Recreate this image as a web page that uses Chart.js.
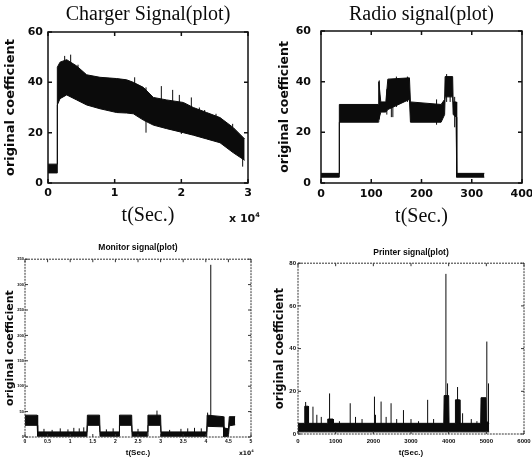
<!DOCTYPE html>
<html>
<head>
<meta charset="utf-8">
<script src="https://cdn.jsdelivr.net/npm/chart.js@4/dist/chart.umd.min.js"></script>
<style>
  html,body{margin:0;padding:0;background:#fff;}
  #wrap{position:relative;width:532px;height:460px;overflow:hidden;background:#fff;}
  .cell{position:absolute;width:266px;height:230px;}
  .mult{position:absolute;font-family:"DejaVu Sans","Liberation Sans",sans-serif;font-weight:bold;color:#111;white-space:nowrap;line-height:1;}
  .mult sup{font-size:0.6em;vertical-align:0.7em;}
</style>
</head>
<body>
<div id="wrap">
  <div class="cell" style="left:0;top:0"><canvas id="cCharger"></canvas></div>
  <div class="cell" style="left:266px;top:0"><canvas id="cRadio"></canvas></div>
  <div class="cell" style="left:0;top:230px"><canvas id="cMonitor"></canvas></div>
  <div class="cell" style="left:266px;top:230px"><canvas id="cPrinter"></canvas></div>
  <span class="mult" style="left:229px;top:212px;font-size:11px">x 10<sup>4</sup></span>
  <span class="mult" style="left:239px;top:450px;font-size:6px">x10<sup>4</sup></span>
</div>
<script>
/* signal data
   each signal = noise band (upper/lower envelope) + isolated spikes */

// Charger (t in units of 10^4 s)
const chargerT  = [0, 0.135, 0.14, 0.18, 0.28, 0.43, 0.58, 0.78, 1.03, 1.18, 1.28, 1.43, 1.58, 1.78, 2.03, 2.18, 2.38, 2.58, 2.78, 2.95];
const chargerHi = [7.5, 7.5, 46, 48, 49, 46.5, 43, 42, 41.5, 41, 40, 38, 34, 33, 32, 30, 28, 26, 22, 17.5];
const chargerLo = [4, 4, 31, 33.5, 35, 33, 31, 29.5, 28, 27.8, 27.5, 25, 23, 21.6, 20, 19, 17.5, 16, 12, 9];
const chargerSpikeT  = [0.25, 0.34, 0.45, 1.3, 1.47, 1.47, 1.7, 1.87, 1.97, 2.0, 2.15, 2.27, 2.35, 2.52, 2.77, 2.87, 2.92];
const chargerSpikeLo = [40, 40, 38, 32, 30, 20, 30, 28, 28, 19.5, 26, 24, 22, 20, 16, 12, 6.5];
const chargerSpikeHi = [50.5, 51, 47, 42, 38, 30, 38.5, 37, 35, 28, 34, 30, 29, 27.5, 23.5, 19, 12];

// Radio (t in s)
const radioT  = [0, 36, 36.5, 114, 115, 119, 129, 133, 176, 178, 239, 246, 247, 262, 263, 269, 270, 325];
const radioHi = [3.8, 3.8, 31, 31, 40, 32, 32, 41, 41.5, 32, 31, 33, 42, 42, 32, 32, 3.8, 3.8];
const radioLo = [2.3, 2.3, 24, 24, 25, 28, 28, 29, 33, 24, 24, 27, 34, 34, 27, 26, 2.3, 2.3];
const radioSpikeT  = [116, 131, 140, 143, 150, 172, 230, 250, 257, 266];
const radioSpikeLo = [25, 27, 26, 26, 30, 32, 23, 32, 32, 22];
const radioSpikeHi = [40.5, 37, 40, 41, 42, 42, 33, 43, 41, 34];

// Monitor (t in units of 10^4 s)
const monT  = [0, 0.27, 0.28, 1.37, 1.38, 1.65, 1.66, 2.08, 2.09, 2.36, 2.37, 2.71, 2.72, 3.0, 3.01, 4.02, 4.03, 4.39, 4.4, 4.5, 4.52, 4.65];
const monHi = [43, 43, 10, 10, 43, 43, 10, 10, 43, 43, 10, 10, 43, 43, 10, 10, 43, 40, 18, 16, 40, 40];
const monLo = [23, 23, 1.5, 1.5, 23, 23, 1.5, 1.5, 23, 23, 1.5, 1.5, 23, 23, 1.5, 1.5, 21, 20, 0, 2, 22, 24];
const monSpikeT  = [0.42, 0.6, 0.78, 0.95, 1.08, 1.2, 1.3, 1.8, 1.95, 2.5, 2.92, 3.2, 3.45, 3.6, 3.75, 3.9, 4.04, 4.11];
const monSpikeLo = [5, 5, 5, 5, 5, 5, 5, 5, 5, 5, 40, 5, 5, 5, 5, 5, 40, 40];
const monSpikeHi = [16, 14, 17, 15, 18, 17, 19, 15, 17, 16, 52, 14, 16, 17, 18, 17, 48, 339];

// Printer (t in s)
const prnT  = [0, 170, 180, 270, 280, 780, 790, 930, 940, 3870, 3880, 4000, 4010, 4170, 4180, 4290, 4300, 4850, 4860, 4990, 5000, 5075];
const prnHi = [5, 5, 13, 13, 5, 5, 7, 7, 5, 5, 18, 18, 5, 5, 16, 16, 5, 5, 17, 17, 6, 5];
const prnLo = [1, 1, 1, 1, 1, 1, 1, 1, 1, 1, 1, 1, 1, 1, 1, 1, 1, 1, 1, 1, 1, 1];
const prnSpikeT  = [203, 397, 500, 618, 838, 900, 1100, 1386, 1527, 1700, 2030, 2057, 2206, 2340, 2471, 2620, 2800, 3000, 3200, 3442, 3600, 3927, 3970, 4236, 4370, 4600, 4750, 5013, 5057];
const prnSpikeLo = [2, 2, 2, 2, 2, 2, 2, 2, 2, 2, 2, 2, 2, 2, 2, 2, 2, 2, 2, 2, 2, 2, 2, 2, 2, 2, 2, 2, 2];
const prnSpikeHi = [15, 12.8, 9, 8, 19, 7, 6, 14.4, 8, 7, 17.5, 9, 15.2, 8, 14.4, 7, 11.2, 7, 6, 16, 7, 75, 23.7, 22, 9.7, 7, 6, 43.3, 23.7];

const INK = '#0b0b0b';
const $ = id => document.getElementById(id);
const pts  = (xs, ys) => xs.map((x, i) => ({x, y: ys[i]}));
const segs = (xs, lo, hi) => xs.flatMap((x, i) => [{x, y: lo[i]}, {x, y: hi[i]}, {x, y: null}]);

// matlab-ish axes box with inward ticks on all four sides
const boxPlugin = {
  id: 'box',
  afterDraw(chart, args, o) {
    const {ctx, chartArea: a, scales: {x, y}} = chart;
    ctx.save();
    ctx.strokeStyle = o.color; ctx.lineWidth = o.width;
    ctx.setLineDash(o.dash || []);
    ctx.strokeRect(a.left, a.top, a.right - a.left, a.bottom - a.top);
    ctx.setLineDash([]);
    ctx.beginPath();
    x.ticks.forEach(t => { const p = x.getPixelForValue(t.value);
      ctx.moveTo(p, a.bottom); ctx.lineTo(p, a.bottom - o.tick);
      ctx.moveTo(p, a.top); ctx.lineTo(p, a.top + o.tick); });
    y.ticks.forEach(t => { const p = y.getPixelForValue(t.value);
      ctx.moveTo(a.left, p); ctx.lineTo(a.left + o.tick, p);
      ctx.moveTo(a.right, p); ctx.lineTo(a.right - o.tick, p); });
    ctx.stroke();
    ctx.restore();
  }
};

function signalChart(id, sig, ax) {
  return new Chart($(id), {
    type: 'line',
    data: {datasets: [
      {data: pts(sig.t, sig.hi), borderColor: INK, backgroundColor: INK, borderWidth: 1, pointRadius: 0, fill: '+1'},
      {data: pts(sig.t, sig.lo), borderColor: INK, borderWidth: 1, pointRadius: 0, fill: false},
      {data: segs(sig.st, sig.slo, sig.shi), borderColor: INK, borderWidth: 1, pointRadius: 0, fill: false, spanGaps: false}
    ]},
    options: {
      responsive: true, maintainAspectRatio: false, animation: false, events: [],
      layout: {padding: {left: 0, right: ax.padRight, top: 0, bottom: 0}},
      plugins: {
        legend: {display: false}, tooltip: {enabled: false},
        title: {display: true, text: ax.title, fullSize: false, color: INK, font: ax.titleFont, padding: ax.titlePad},
        box: ax.box
      },
      scales: {
        x: {type: 'linear', min: ax.x[0], max: ax.x[1],
          grid: {display: false, drawTicks: false}, border: {display: false},
          ticks: {stepSize: ax.x[2], color: INK, font: ax.tickFont, padding: ax.xTickPad, maxRotation: 0, autoSkip: false, callback: v => String(v)},
          title: {display: true, text: 't(Sec.)', color: INK, font: ax.xTitleFont, padding: ax.xTitlePad},
          afterFit: s => { s.height = ax.xHeight; s.paddingLeft = 0; s.paddingRight = 0; }},
        y: {min: ax.y[0], max: ax.y[1],
          grid: {display: false, drawTicks: false}, border: {display: false},
          ticks: {stepSize: ax.y[2], color: INK, font: ax.yTickFont || ax.tickFont, padding: ax.yTickPad, autoSkip: false, callback: v => String(v)},
          title: {display: true, text: 'original coefficient', color: INK, font: ax.yTitleFont, padding: ax.yTitlePad},
          afterFit: s => { s.width = ax.yWidth; s.paddingTop = 0; s.paddingBottom = 0; }}
      }
    },
    plugins: [boxPlugin]
  });
}

const SERIF = '"Liberation Serif","DejaVu Serif",serif';
const WIDE = '"DejaVu Sans","Liberation Sans",sans-serif';
const SANS = '"Liberation Sans",Arial,sans-serif';
const boxTop = {color: '#111', width: 1.5, tick: 4};
const boxBot = {color: '#333', width: 1, dash: [2, 1], tick: 3};

signalChart('cCharger',
  {t: chargerT, hi: chargerHi, lo: chargerLo, st: chargerSpikeT, slo: chargerSpikeLo, shi: chargerSpikeHi},
  {title: 'Charger Signal(plot)', titleFont: {family: SERIF, size: 20, weight: 'normal'}, titlePad: {top: 3, bottom: 5},
   x: [0, 3, 1], y: [0, 60, 20], padRight: 18, xHeight: 47, yWidth: 48,
   tickFont: {family: WIDE, size: 11, weight: 'bold'}, xTickPad: 4, yTickPad: 5,
   xTitleFont: {family: SERIF, size: 20}, xTitlePad: 2,
   yTitleFont: {family: WIDE, size: 13, weight: 'bold'}, yTitlePad: 3, box: boxTop});

signalChart('cRadio',
  {t: radioT, hi: radioHi, lo: radioLo, st: radioSpikeT, slo: radioSpikeLo, shi: radioSpikeHi},
  {title: 'Radio signal(plot)', titleFont: {family: SERIF, size: 20, weight: 'normal'}, titlePad: {top: 3, bottom: 4},
   x: [0, 400, 100], y: [0, 60, 20], padRight: 10, xHeight: 47, yWidth: 55,
   tickFont: {family: WIDE, size: 11, weight: 'bold'}, xTickPad: 5, yTickPad: 10,
   xTitleFont: {family: SERIF, size: 20}, xTitlePad: 1,
   yTitleFont: {family: WIDE, size: 12.5, weight: 'bold'}, yTitlePad: 11, box: boxTop});

signalChart('cMonitor',
  {t: monT, hi: monHi, lo: monLo, st: monSpikeT, slo: monSpikeLo, shi: monSpikeHi},
  {title: 'Monitor signal(plot)', titleFont: {family: SANS, size: 8.5, weight: 'bold'}, titlePad: {top: 13, bottom: 6},
   x: [0, 5, 0.5], y: [0, 350, 50], padRight: 15, xHeight: 23, yWidth: 25,
   tickFont: {family: SANS, size: 5, weight: 'bold'}, yTickFont: {family: SANS, size: 4, weight: 'bold'}, xTickPad: 2, yTickPad: 1,
   xTitleFont: {family: SANS, size: 8, weight: 'bold'}, xTitlePad: 2,
   yTitleFont: {family: WIDE, size: 11, weight: 'bold'}, yTitlePad: 4, box: boxBot});

signalChart('cPrinter',
  {t: prnT, hi: prnHi, lo: prnLo, st: prnSpikeT, slo: prnSpikeLo, shi: prnSpikeHi},
  {title: 'Printer signal(plot)', titleFont: {family: SANS, size: 8.5, weight: 'bold'}, titlePad: {top: 18, bottom: 5},
   x: [0, 6000, 1000], y: [0, 80, 20], padRight: 8, xHeight: 26, yWidth: 32,
   tickFont: {family: SANS, size: 6, weight: 'bold'}, xTickPad: 4, yTickPad: 2,
   xTitleFont: {family: SANS, size: 8, weight: 'bold'}, xTitlePad: 2,
   yTitleFont: {family: WIDE, size: 11.5, weight: 'bold'}, yTitlePad: 7, box: boxBot});
</script>
</body>
</html>
